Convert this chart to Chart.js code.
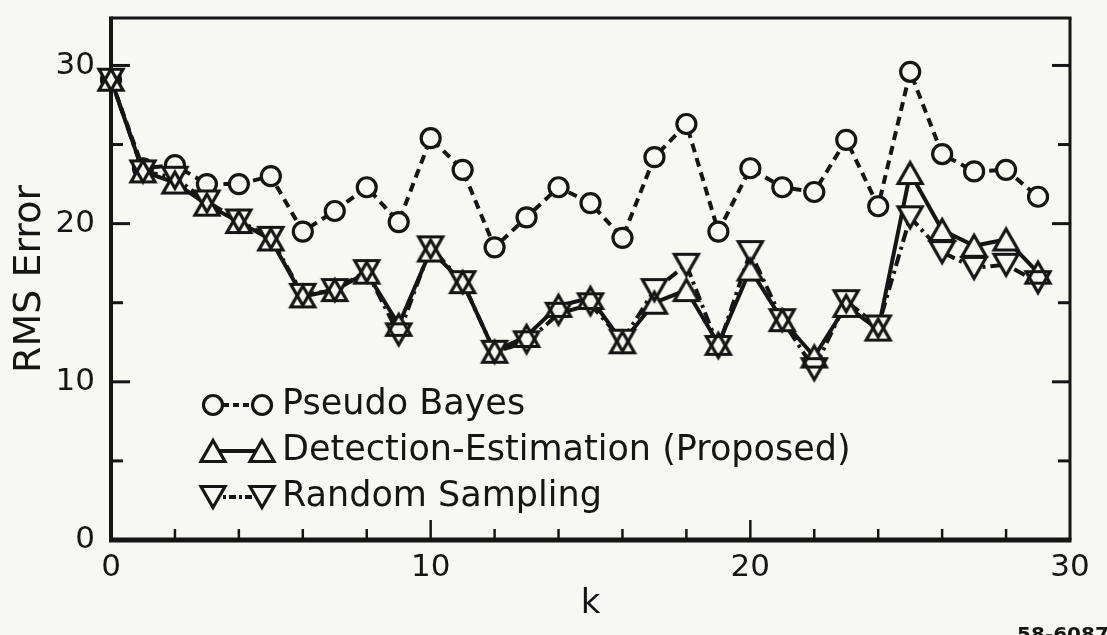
<!DOCTYPE html>
<html>
<head>
<meta charset="utf-8">
<script src="https://cdn.jsdelivr.net/npm/chart.js@4.4.1/dist/chart.umd.min.js"></script>
<style>
  html, body { margin: 0; padding: 0; background: #f7f7f4; }
  #rms { display: block; }
</style>
</head>
<body>
<canvas id="rms" width="1107" height="635"></canvas>
<script>
// RMS error per step k for the three estimators
const kSteps = [0, 1, 2, 3, 4, 5, 6, 7, 8, 9, 10, 11, 12, 13, 14,
                15, 16, 17, 18, 19, 20, 21, 22, 23, 24, 25, 26, 27, 28, 29];

const pseudoBayes = [29.1, 23.5, 23.7, 22.5, 22.5, 23.0, 19.5, 20.8, 22.3, 20.1,
                     25.4, 23.4, 18.5, 20.4, 22.3, 21.3, 19.1, 24.2, 26.3, 19.5,
                     23.5, 22.3, 22.0, 25.3, 21.1, 29.6, 24.4, 23.3, 23.4, 21.7];

const detectionEst = [29.1, 23.3, 22.6, 21.2, 20.1, 19.0, 15.4, 15.8, 16.9, 13.6,
                      18.3, 16.3, 11.9, 12.9, 14.8, 15.3, 12.5, 15.0, 15.8, 12.4,
                      17.1, 13.9, 11.6, 14.8, 13.3, 23.2, 19.6, 18.6, 19.0, 16.9];

const randomSampling = [29.1, 23.3, 22.9, 21.4, 20.2, 19.1, 15.5, 15.8, 17.0, 13.0,
                        18.5, 16.3, 11.9, 12.5, 14.3, 14.9, 12.6, 15.8, 17.4, 12.2,
                        18.2, 13.9, 10.8, 15.1, 13.5, 20.4, 18.2, 17.2, 17.4, 16.3];

const xTickValues = [0, 10, 20, 30];
const xMinorTicks = [2, 4, 6, 8, 12, 14, 16, 18, 22, 24, 26, 28];
const yTickValues = [0, 10, 20, 30];
const yMinorTicks = [5, 15, 25];

const seriesNames = ['Pseudo Bayes', 'Detection-Estimation (Proposed)', 'Random Sampling'];

const INK = '#151515';
const PAPER = '#f7f7f4';
const FONT = '"DejaVu Sans", "Liberation Sans", sans-serif';

// triangle markers centred on their bounding box, so ▽ over △ gives the bowtie
function triangleMark(up, filled) {
  const c = document.createElement('canvas');
  c.width = 32; c.height = 30;
  const g = c.getContext('2d');
  const cx = 16, cy = 15, hw = 12, hh = 10.5;
  g.beginPath();
  if (up) { g.moveTo(cx, cy - hh); g.lineTo(cx + hw, cy + hh); g.lineTo(cx - hw, cy + hh); }
  else    { g.moveTo(cx, cy + hh); g.lineTo(cx + hw, cy - hh); g.lineTo(cx - hw, cy - hh); }
  g.closePath();
  if (filled) { g.fillStyle = PAPER; g.fill(); }
  else { g.lineWidth = 3.2; g.strokeStyle = INK; g.stroke(); }
  return c;
}
const upOutline = triangleMark(true, false), upMask = triangleMark(true, true);
const downOutline = triangleMark(false, false), downMask = triangleMark(false, true);

const DASH_PB = [9, 6];
const DASH_RS = [12, 5, 3, 5];

function pts(values) { return kSteps.map((k, i) => ({ x: k, y: values[i] })); }

function lineSet(label, values, dash, order) {
  return { label, data: pts(values), showLine: true, borderColor: INK, borderWidth: 4,
           borderDash: dash, pointRadius: 0, order, clip: false };
}
function markSet(label, values, style, order) {
  return { label, data: pts(values), showLine: false, pointStyle: style, pointRadius: 10,
           order, clip: false };
}

const datasets = [
  lineSet(seriesNames[0], pseudoBayes, DASH_PB, 7),
  { label: seriesNames[0], data: pts(pseudoBayes), showLine: false, pointStyle: 'circle',
    pointRadius: 9.5, pointBackgroundColor: PAPER, pointBorderColor: INK, pointBorderWidth: 3.2,
    order: 6, clip: false },
  lineSet(seriesNames[1], detectionEst, [], 4),
  lineSet(seriesNames[2], randomSampling, DASH_RS, 4),
  markSet(seriesNames[1], detectionEst, upMask, 3),
  markSet(seriesNames[2], randomSampling, downMask, 3),
  markSet(seriesNames[1], detectionEst, upOutline, 2),
  markSet(seriesNames[2], randomSampling, downOutline, 2),
];

function seg(ctx, x1, y1, x2, y2) {
  ctx.beginPath(); ctx.moveTo(x1, y1); ctx.lineTo(x2, y2); ctx.stroke();
}

// box frame with inward ticks
const framePlugin = {
  id: 'frame',
  beforeDraw(chart) {
    const ctx = chart.ctx;
    ctx.save();
    ctx.fillStyle = PAPER;
    ctx.fillRect(0, 0, chart.width, chart.height);
    ctx.restore();
  },
  beforeDatasetsDraw(chart) {
    const { ctx, chartArea: a, scales: { x, y } } = chart;
    ctx.save();
    ctx.strokeStyle = INK;
    ctx.lineCap = 'butt';
    ctx.lineWidth = 3;
    seg(ctx, a.left, a.top, a.right + 1.5, a.top);
    seg(ctx, a.right, a.top, a.right, a.bottom);
    ctx.lineWidth = 4;
    seg(ctx, a.left, a.top - 1.5, a.left, a.bottom + 2);
    ctx.lineWidth = 5;
    seg(ctx, a.left - 2, a.bottom, a.right + 1.5, a.bottom);

    ctx.lineWidth = 3;
    yTickValues.forEach(v => {
      const py = y.getPixelForValue(v);
      seg(ctx, a.left, py, a.left + 19, py);
      seg(ctx, a.right, py, a.right - 18, py);
    });
    yMinorTicks.forEach(v => {
      const py = y.getPixelForValue(v);
      seg(ctx, a.left, py, a.left + 12, py);
      seg(ctx, a.right, py, a.right - 12, py);
    });
    ctx.lineWidth = 2.5;
    xTickValues.slice(1, -1).forEach(v => {
      const px = x.getPixelForValue(v);
      seg(ctx, px, a.bottom, px, a.bottom - 20);
    });
    xMinorTicks.forEach(v => {
      const px = x.getPixelForValue(v);
      seg(ctx, px, a.bottom, px, a.bottom - 11);
    });
    ctx.restore();
  },
  afterDraw(chart) {
    const ctx = chart.ctx;
    ctx.save();
    // legend: sample line with a marker at each end
    const rows = [
      { y: 405, dash: [6, 4], mark: 'circle' },
      { y: 451, dash: [], mark: 'up' },
      { y: 497, dash: [7, 3, 3, 3], mark: 'down' },
    ];
    const x0 = 213, x1 = 262;
    rows.forEach((r, i) => {
      ctx.strokeStyle = INK;
      ctx.lineWidth = 4;
      ctx.setLineDash(r.dash);
      seg(ctx, x0, r.y, x1, r.y);
      ctx.setLineDash([]);
      [x0, x1].forEach(px => {
        if (r.mark === 'circle') {
          ctx.beginPath();
          ctx.arc(px, r.y, 9.5, 0, Math.PI * 2);
          ctx.fillStyle = PAPER; ctx.fill();
          ctx.lineWidth = 3.2; ctx.stroke();
        } else {
          const m = r.mark === 'up' ? upMask : downMask;
          const o = r.mark === 'up' ? upOutline : downOutline;
          ctx.drawImage(m, px - m.width / 2, r.y - m.height / 2);
          ctx.drawImage(o, px - o.width / 2, r.y - o.height / 2);
        }
      });
      ctx.fillStyle = INK;
      ctx.font = '35px ' + FONT;
      ctx.textBaseline = 'middle';
      ctx.textAlign = 'left';
      ctx.fillText(seriesNames[i], 282, r.y);
    });
    // drawing number in the corner
    ctx.font = 'bold 20px ' + FONT;
    ctx.textBaseline = 'top';
    ctx.fillText('58-6087', 1017, 626);
    ctx.restore();
  }
};

new Chart(document.getElementById('rms'), {
  type: 'scatter',
  data: { datasets },
  plugins: [framePlugin],
  options: {
    responsive: false,
    devicePixelRatio: 1,
    animation: false,
    events: [],
    layout: { padding: { left: 0, right: 37, top: 18, bottom: 0 } },
    plugins: { legend: { display: false }, tooltip: { enabled: false } },
    scales: {
      x: {
        type: 'linear', min: 0, max: 30,
        afterBuildTicks: s => { s.ticks = xTickValues.map(v => ({ value: v })); },
        afterFit: s => { s.height = 95; s.paddingLeft = 0; s.paddingRight = 0; },
        grid: { display: false, drawTicks: false },
        border: { display: false },
        ticks: { padding: 9, color: INK, maxRotation: 0, font: { family: FONT, size: 31 } },
        title: { display: true, text: 'k', color: INK, font: { family: FONT, size: 34 },
                 padding: { top: 0, bottom: 10 } },
      },
      y: {
        type: 'linear', min: 0, max: 33,
        afterBuildTicks: s => { s.ticks = yTickValues.map(v => ({ value: v })); },
        afterFit: s => { s.width = 111; s.paddingTop = 0; s.paddingBottom = 0; },
        grid: { display: false, drawTicks: false },
        border: { display: false },
        ticks: { padding: 16, color: INK, font: { family: FONT, size: 31 } },
        title: { display: true, text: 'RMS Error', color: INK, font: { family: FONT, size: 38 },
                 padding: { top: 7, bottom: 0 } },
      },
    },
  },
});
</script>
</body>
</html>
